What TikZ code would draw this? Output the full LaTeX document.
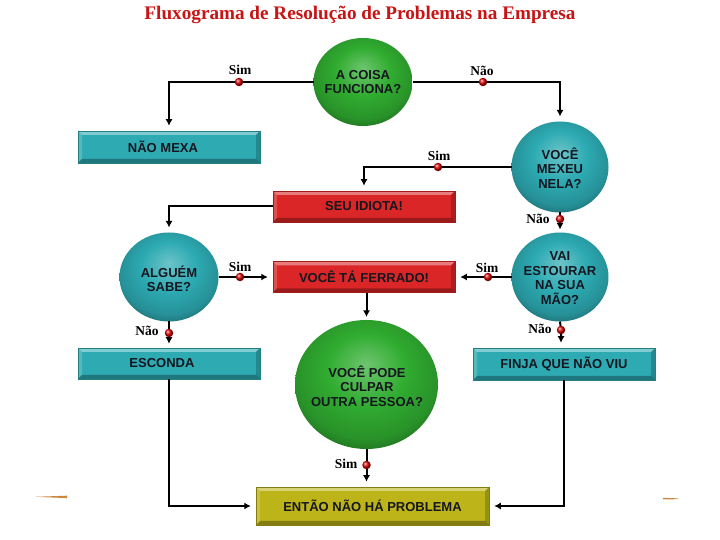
\documentclass[tikz,border=0pt]{standalone}
\usepackage{fontspec}
\usepackage{graphicx}
\setmainfont{Liberation Sans}
\newfontfamily\tnr{Liberation Serif}
\usetikzlibrary{arrows.meta,shapes.geometric}

\definecolor{tealc}{RGB}{45,170,178}
\definecolor{greenc}{RGB}{48,172,48}
\definecolor{redc}{RGB}{218,38,38}
\definecolor{olivec}{RGB}{188,180,25}
\definecolor{titlered}{RGB}{200,20,20}
\definecolor{txt}{RGB}{22,22,32}
\definecolor{orangedec}{RGB}{205,135,60}

\pgfdeclareradialshading{ballteal}{\pgfpoint{0bp}{8bp}}{color(0bp)=(tealc!70!white); color(14bp)=(tealc); color(25bp)=(tealc!85!black); color(33bp)=(tealc!55!black); color(50bp)=(tealc!55!black)}
\pgfdeclareradialshading{ballgreen}{\pgfpoint{0bp}{8bp}}{color(0bp)=(greenc!70!white); color(14bp)=(greenc); color(25bp)=(greenc!85!black); color(33bp)=(greenc!55!black); color(50bp)=(greenc!55!black)}

\newcommand{\shapefnt}{\bfseries\fontsize{13}{14.5}\selectfont}

\tikzset{
  bevel/.style={path picture={
    \fill[white,opacity=.40] (path picture bounding box.north west) -- (path picture bounding box.north east) -- ([shift={(-4pt,-4pt)}]path picture bounding box.north east) -- ([shift={(4pt,-4pt)}]path picture bounding box.north west) -- cycle;
    \fill[white,opacity=.18] (path picture bounding box.north west) -- (path picture bounding box.south west) -- ([shift={(4pt,4pt)}]path picture bounding box.south west) -- ([shift={(4pt,-4pt)}]path picture bounding box.north west) -- cycle;
    \fill[black,opacity=.30] (path picture bounding box.south west) -- (path picture bounding box.south east) -- ([shift={(-4pt,4pt)}]path picture bounding box.south east) -- ([shift={(4pt,4pt)}]path picture bounding box.south west) -- cycle;
    \fill[black,opacity=.20] (path picture bounding box.north east) -- (path picture bounding box.south east) -- ([shift={(-4pt,4pt)}]path picture bounding box.south east) -- ([shift={(-4pt,-4pt)}]path picture bounding box.north east) -- cycle;
  }},
  boxn/.style={rectangle, inner sep=0pt, minimum width=182pt, minimum height=31pt, bevel, font=\shapefnt, text=txt},
  tealbox/.style={boxn, fill=tealc, draw=tealc!75!black, line width=0.5pt},
  redbox/.style={boxn, fill=redc, draw=redc!75!black, line width=0.5pt},
  olivebox/.style={boxn, fill=olivec, draw=olivec!70!black, line width=0.5pt},
  ballshape/.style={ellipse, inner sep=0pt, outer sep=0pt},
  balltext/.style={inner sep=0pt, align=center, font=\shapefnt, text=txt},
  tealball/.style={ballshape, shading=ballteal},
  greenball/.style={ballshape, shading=ballgreen},
  conn/.style={line width=2pt, -{Latex[length=6.5pt,width=7pt]}, shorten >=5pt},
  reddot/.style={circle, inner sep=0pt, minimum size=8.5pt, shading=ball, ball color=red!85!black},
  lab/.style={font=\tnr\bfseries\fontsize{13.5}{15}\selectfont, inner sep=0pt, text=black},
}

\begin{document}
\begin{tikzpicture}[x=1pt,y=1pt]
\useasboundingbox (0,0) rectangle (720,540);
\fill[white] (0,0) rectangle (720,540);

% title
\node[inner sep=0pt, text=titlered] (title) at (360,525)
  {\resizebox{431pt}{!}{\tnr\bfseries\fontsize{17}{20}\selectfont Fluxograma de Resolução de Problemas na Empresa}};

% dot positions
\coordinate (d1) at (239,458);
\coordinate (d2) at (483,458);
\coordinate (d3) at (438,373);
\coordinate (d4) at (560,321);
\coordinate (d5) at (240,263);
\coordinate (d6) at (488,263);
\coordinate (d7) at (169,207);
\coordinate (d8) at (561,210);
\coordinate (d9) at (366.5,75);

% round shapes
\node[greenball, minimum width=99pt, minimum height=88pt] (c1) at (363,458) {};
\node[tealball, minimum width=97pt, minimum height=91pt] (c2) at (560,373) {};
\node[tealball, minimum width=97pt, minimum height=89pt] (c3) at (560,263) {};
\node[tealball, minimum width=99pt, minimum height=89pt] (alg) at (169,263) {};
\node[greenball, minimum width=143pt, minimum height=129pt] (c4) at (366.5,155.5) {};
\node[balltext] (c1t) at (363,458) {A COISA\\FUNCIONA?};
\node[balltext] (c2t) at (560,372) {VOCÊ\\MEXEU\\NELA?};
\node[balltext] (c3t) at (560,262) {VAI\\ESTOURAR\\NA SUA\\MÃO?};
\node[balltext] (algt) at (169,261) {ALGUÉM\\SABE?};
\node[balltext] (c4t) at (367,154) {VOCÊ PODE\\CULPAR\\OUTRA PESSOA?};

% boxes
\node[tealbox, minimum height=32pt] (nm) at (169,393) {\hspace*{-12pt}NÃO MEXA};
\node[redbox] (idiota) at (364,333.5) {SEU IDIOTA!};
\node[redbox] (ferrado) at (364,263) {VOCÊ TÁ FERRADO!};
\node[tealbox] (esconda) at (169,176.5) {\hspace*{-14pt}ESCONDA};
\node[tealbox, minimum height=32pt] (finja) at (564,176) {FINJA QUE NÃO VIU};
\node[olivebox, minimum width=233pt, minimum height=38pt] (entao) at (372.5,34) {ENTÃO NÃO HÁ PROBLEMA};

% connectors
\draw[conn] (c1.west) -- (d1) -| (nm.north);
\draw[conn] (c1.east) -- (d2) -| (c2.north);
\draw[conn] (c2.west) -- (d3) -| (idiota.north);
\draw[conn] (idiota.west) -| (alg.north);
\draw[conn, shorten >=3pt] (c2.south) -- (d4) -- (c3.north);
\draw[conn] (alg.east) -- (d5) -- (ferrado.west);
\draw[conn] (c3.west) -- (d6) -- (ferrado.east);
\draw[conn, shorten >=3pt] (c4.north |- ferrado.south) -- (c4.north);
\draw[conn, shorten >=4pt] (alg.south) -- (d7) -- (esconda.north);
\draw[conn] (c3.south) -- (d8) -- (d8 |- finja.north);
\draw[conn] (c4.south) -- (d9) -- (d9 |- entao.north);
\draw[conn] (esconda.south) |- (entao.west);
\draw[conn] (finja.south) |- (entao.east);

% red dots
\node[reddot] (dot1) at (d1) {};
\node[reddot] (dot2) at (d2) {};
\node[reddot] (dot3) at (d3) {};
\node[reddot] (dot4) at (d4) {};
\node[reddot] (dot5) at (d5) {};
\node[reddot] (dot6) at (d6) {};
\node[reddot] (dot7) at (d7) {};
\node[reddot] (dot8) at (d8) {};
\node[reddot] (dot9) at (d9) {};

% labels
\node[lab] (l1) at (240,470) {Sim};
\node[lab] (l2) at (482,469) {Não};
\node[lab] (l3) at (439,384) {Sim};
\node[lab] (l4) at (538,321) {Não};
\node[lab] (l5) at (240,273) {Sim};
\node[lab] (l6) at (487,272) {Sim};
\node[lab] (l7) at (147,209) {Não};
\node[lab] (l8) at (540,211) {Não};
\node[lab] (l9) at (346,76) {Sim};

% small orange strokes
\fill[orangedec] (35,43.2) -- (67,44.3) -- (67,41.9) -- cycle;
\fill[orangedec] (663,42.2) -- (678,41.6) -- (678,40.8) -- (663,40.6) -- cycle;
\end{tikzpicture}
\end{document}
